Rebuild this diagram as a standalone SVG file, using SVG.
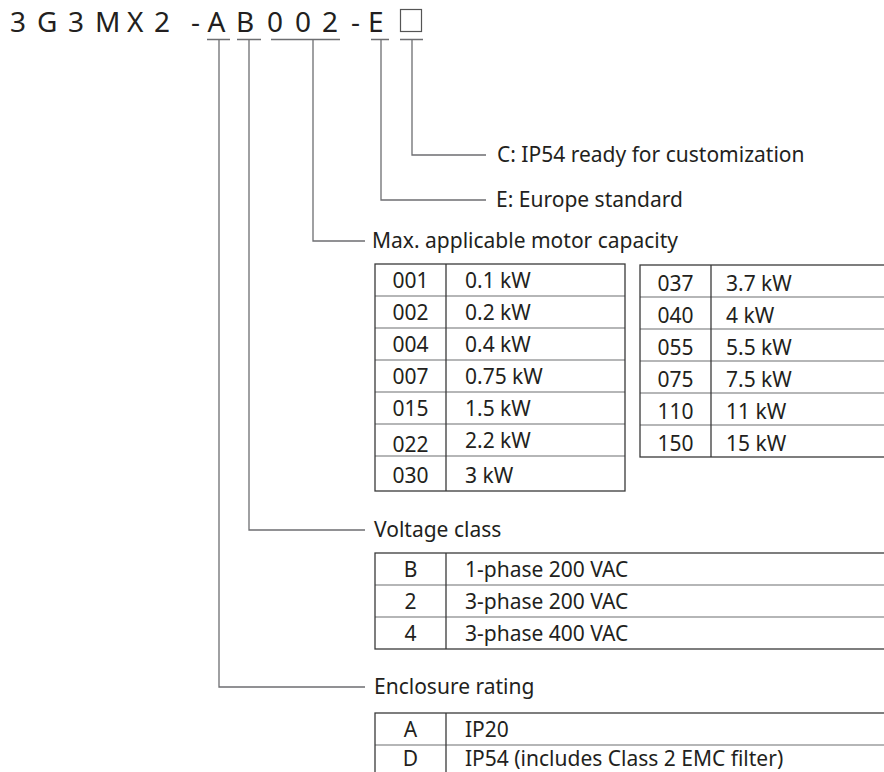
<svg xmlns="http://www.w3.org/2000/svg" width="884" height="772" viewBox="0 0 884 772">
<style>
text{font-family:"Noto Sans","Open Sans","Liberation Sans",sans-serif;fill:#231f20}
.code{font-size:28px}
.lbl{font-size:21px}
.cell{font-size:21px}
.c{text-anchor:middle}
.conn{fill:none;stroke:#6d6e71;stroke-width:1.3}
.outer{fill:none;stroke:#3a3a3a;stroke-width:1.3}
.inner{fill:none;stroke:#6d6e71;stroke-width:1.2}
</style>
<rect width="884" height="772" fill="#fff"/>
<g id="model-code">
<text class="code" y="32"><tspan x="10">3</tspan> <tspan x="37">G</tspan> <tspan x="68">3</tspan> <tspan x="95">M</tspan> <tspan x="127">X</tspan> <tspan x="154">2</tspan> <tspan x="191">-</tspan> <tspan x="207.5">A</tspan> <tspan x="236">B</tspan> <tspan x="267">0</tspan> <tspan x="295">0</tspan> <tspan x="322">2</tspan> <tspan x="351">-</tspan> <tspan x="368">E</tspan></text>
<rect x="400.5" y="9.5" width="21" height="22" fill="none" stroke="#555" stroke-width="1.2"/>
</g>
<g id="connectors">
<path class="conn" d="M207 39.5H230M219 39.5V687H365"/>
<path class="conn" d="M237 39.5H261M249 39.5V530H365"/>
<path class="conn" d="M271 39.5H340M313 39.5V241H365"/>
<path class="conn" d="M371 39.5H389M381 39.5V200H486"/>
<path class="conn" d="M400 39.5H423M412 39.5V155H486"/>
</g>
<g id="label-c">
<text class="lbl" x="497" y="162">C: IP54 ready for customization</text>
</g>
<g id="label-e">
<text class="lbl" x="496" y="207">E: Europe standard</text>
</g>
<g id="capacity">
<text class="lbl" x="372" y="248">Max. applicable motor capacity</text>
<g id="capacity-table-left">
<path class="inner" d="M375 296H625M375 328H625M375 360H625M375 392H625M375 424H625M375 456H625"/>
<rect class="outer" x="375" y="264" width="250" height="227"/>
<path class="outer" d="M446 264V491"/>
<text class="cell c" x="410.5" y="288">001</text><text class="cell" x="465" y="288">0.1 kW</text>
<text class="cell c" x="410.5" y="320">002</text><text class="cell" x="465" y="320">0.2 kW</text>
<text class="cell c" x="410.5" y="352">004</text><text class="cell" x="465" y="352">0.4 kW</text>
<text class="cell c" x="410.5" y="384">007</text><text class="cell" x="465" y="384">0.75 kW</text>
<text class="cell c" x="410.5" y="416">015</text><text class="cell" x="465" y="416">1.5 kW</text>
<text class="cell c" x="410.5" y="452">022</text><text class="cell" x="465" y="448">2.2 kW</text>
<text class="cell c" x="410.5" y="483">030</text><text class="cell" x="465" y="483">3 kW</text>
</g>
<g id="capacity-table-right">
<path class="inner" d="M640 297H884M640 329H884M640 361H884M640 393H884M640 425H884"/>
<rect class="outer" x="640" y="265" width="250" height="192"/>
<path class="outer" d="M711 265V457"/>
<text class="cell c" x="675.5" y="291">037</text><text class="cell" x="726" y="291">3.7 kW</text>
<text class="cell c" x="675.5" y="323">040</text><text class="cell" x="726" y="323">4 kW</text>
<text class="cell c" x="675.5" y="355">055</text><text class="cell" x="726" y="355">5.5 kW</text>
<text class="cell c" x="675.5" y="387">075</text><text class="cell" x="726" y="387">7.5 kW</text>
<text class="cell c" x="675.5" y="419">110</text><text class="cell" x="726" y="419">11 kW</text>
<text class="cell c" x="675.5" y="451">150</text><text class="cell" x="726" y="451">15 kW</text>
</g>
</g>
<g id="voltage">
<text class="lbl" x="374" y="537">Voltage class</text>
<path class="inner" d="M375 585H884M375 617H884"/>
<rect class="outer" x="375" y="553" width="520" height="96"/>
<path class="outer" d="M446 553V649"/>
<text class="cell c" x="410.5" y="577">B</text><text class="cell" x="465" y="577">1-phase 200 VAC</text>
<text class="cell c" x="410.5" y="609">2</text><text class="cell" x="465" y="609">3-phase 200 VAC</text>
<text class="cell c" x="410.5" y="641">4</text><text class="cell" x="465" y="641">3-phase 400 VAC</text>
</g>
<g id="enclosure">
<text class="lbl" x="374" y="694">Enclosure rating</text>
<path class="inner" d="M375 745H884"/>
<rect class="outer" x="375" y="713" width="520" height="70"/>
<path class="outer" d="M446 713V783"/>
<text class="cell c" x="410.5" y="737">A</text><text class="cell" x="465" y="737">IP20</text>
<text class="cell c" x="410.5" y="766">D</text><text class="cell" x="465" y="766">IP54 (includes Class 2 EMC filter)</text>
</g>
</svg>
